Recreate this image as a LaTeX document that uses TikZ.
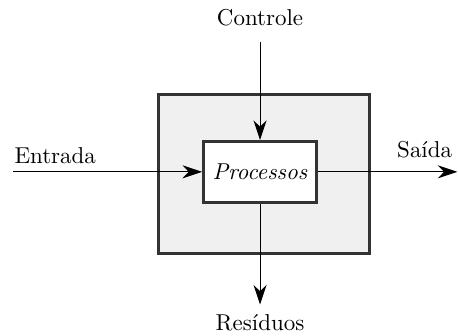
\documentclass[tikz,border=0pt]{standalone}
\usetikzlibrary{arrows.meta,positioning}
\tikzset{
  caixa/.style={draw=black!80, line width=1.3pt},
  fluxo/.style={-{Stealth[length=3mm,width=2mm]}, line width=0.4pt}
}
\begin{document}
\begin{tikzpicture}
  \useasboundingbox (-3.98,-2.51) rectangle (3.03,2.63);
  % sistema e processo
  \node[caixa, fill=black!6, minimum width=3.24cm, minimum height=2.43cm] (sistema) at (0.06,-0.03) {};
  \node[caixa, fill=white, minimum width=1.73cm, minimum height=0.93cm] (proc) at (0,0) {\textit{Processos}};
  % pontas livres
  \coordinate (in) at (-3.78,0);
  \coordinate (out) at (3.02,0);
  \coordinate (ctrl) at (0,1.99);
  \coordinate (res) at (0,-2.03);
  \node[anchor=south west, inner sep=1pt] (entrada) at (-3.80,0.08) {Entrada};
  \node (saida) at (2.52,0.34) {Saída};
  \node (controle) at (0,2.36) {Controle};
  \node (residuos) at (0,-2.31) {Resíduos};
  % fluxos
  \draw[fluxo] (in) -- (proc.west);
  \draw[fluxo] (proc.east) -- (out);
  \draw[fluxo] (ctrl) -- (proc.north);
  \draw[fluxo] (proc.south) -- (res);
\end{tikzpicture}
\end{document}
